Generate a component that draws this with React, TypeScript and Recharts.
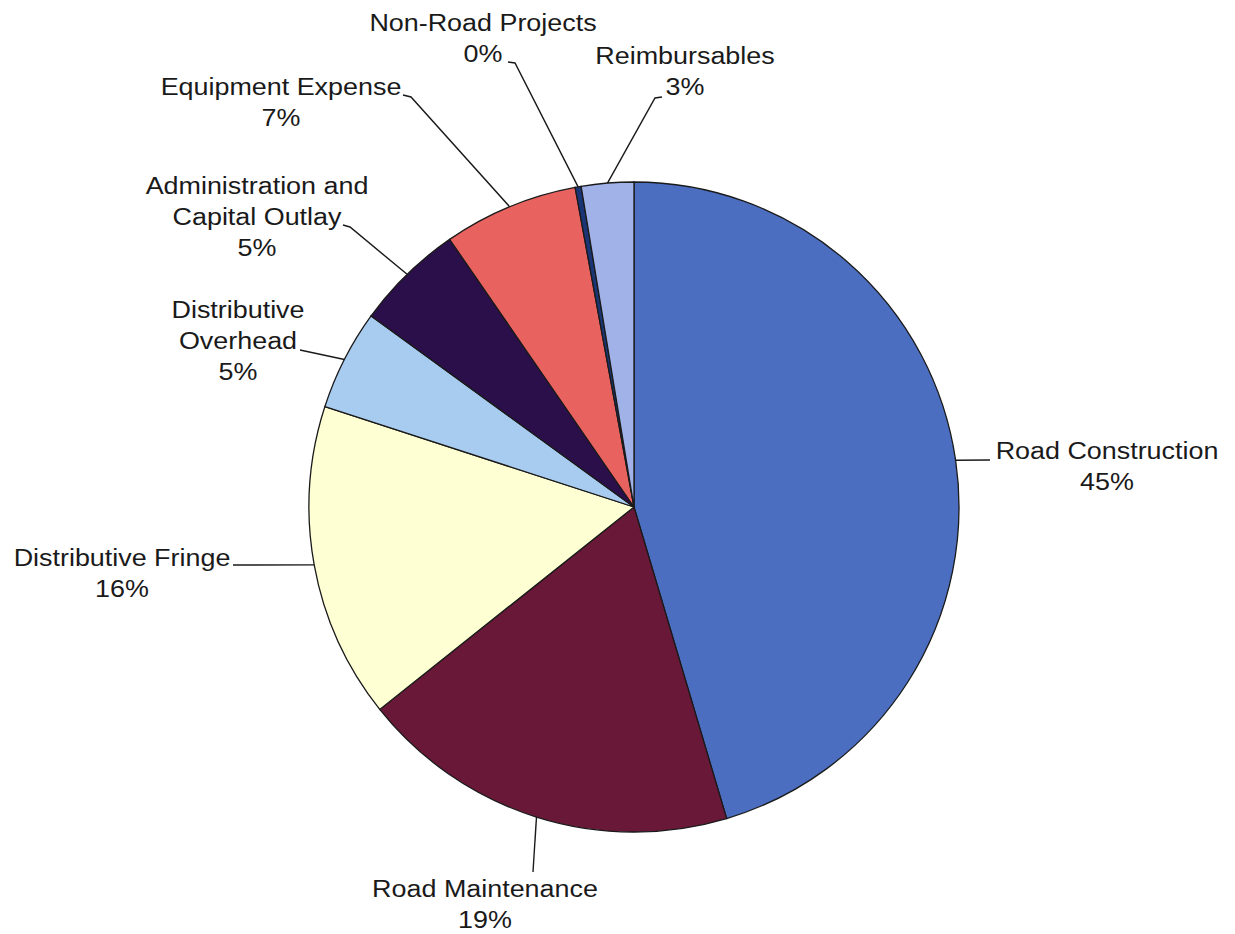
import { PieChart, Pie, Cell } from 'recharts';

// categories, clockwise from 12 o'clock
const CATEGORIES = [
  'Road Construction',
  'Road Maintenance',
  'Distributive Fringe',
  'Distributive\nOverhead',
  'Administration and\nCapital Outlay',
  'Equipment Expense',
  'Non-Road Projects',
  'Reimbursables',
];
const SHARES = [45.4, 18.9, 15.7, 5.0, 5.4, 6.7, 0.3, 2.6];
const COLORS = ['#4B6EC0', '#6A1838', '#FFFFD4', '#A8CCF0', '#2A0F4A', '#E8625F', '#1A3575', '#A0B2E8'];

// label placement: text block centre (first line) and leader points back to the slice
const LABEL_POS = [
  { x: 1107, y: 451, leader: [[990, 460]] },
  { x: 485, y: 889, leader: [[533, 872]] },
  { x: 122, y: 558, leader: [[233, 565]] },
  { x: 238, y: 310, leader: [[300, 350]] },
  { x: 257, y: 186, leader: [[350, 227], [343, 225]] },
  { x: 281, y: 87, leader: [[411, 97], [403, 95]] },
  { x: 483, y: 23, leader: [[515, 63], [508, 62]] },
  { x: 685, y: 56, leader: [[655, 98], [662, 97]] },
];

const CX = 634;
const CY = 507;
const R = 325;
const RADIAN = Math.PI / 180;
const LINE_H = 31;

const data = CATEGORIES.map((name, i) => ({ name, value: SHARES[i] }));

const renderLabel = (props: any) => {
  const { cx, cy, midAngle, outerRadius, index, percent } = props;
  const sx = cx + outerRadius * Math.cos(-midAngle * RADIAN);
  const sy = cy + outerRadius * Math.sin(-midAngle * RADIAN);
  const pos = LABEL_POS[index];
  const pts = [[sx, sy], ...pos.leader].map((p) => p.join(',')).join(' ');
  const lines = [...CATEGORIES[index].split('\n'), `${Math.round(percent * 100)}%`];
  return (
    <g key={`lbl-${index}`}>
      <polyline points={pts} fill="none" stroke="#1a1a1a" strokeWidth={1.4} />
      {lines.map((t, j) => (
        <text
          key={j}
          x={0}
          y={0}
          transform={`translate(${pos.x},${pos.y + j * LINE_H}) scale(1.17,1)`}
          textAnchor="middle"
          dominantBaseline="central"
          fontSize={23}
          fontFamily="'Liberation Sans', Arial, sans-serif"
          fill="#1a1a1a"
        >
          {t}
        </text>
      ))}
    </g>
  );
};

export default function App() {
  return (
    <div style={{ position: 'absolute', left: 0, top: 0, width: 1235, height: 934, background: '#fff' }}>
      <PieChart width={1235} height={934} margin={{ top: 0, right: 0, bottom: 0, left: 0 }}>
        <Pie
          data={data}
          dataKey="value"
          cx={CX}
          cy={CY}
          outerRadius={R}
          startAngle={90}
          endAngle={-270}
          stroke="#1a1a1a"
          strokeWidth={1.3}
          label={renderLabel}
          labelLine={false}
          isAnimationActive={false}
        >
          {data.map((_, i) => (
            <Cell key={`cell-${i}`} fill={COLORS[i]} />
          ))}
        </Pie>
      </PieChart>
    </div>
  );
}
